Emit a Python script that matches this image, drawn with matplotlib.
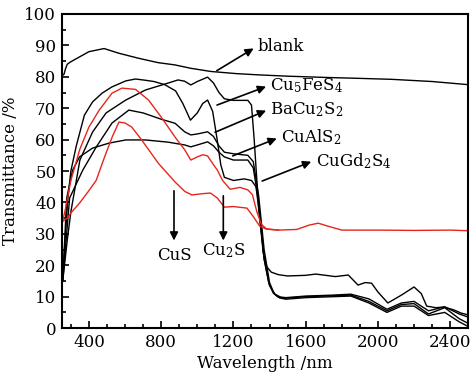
import matplotlib
matplotlib.use("Agg")
import matplotlib.pyplot as plt
from matplotlib.ticker import MultipleLocator

plt.rcParams["font.family"] = "DejaVu Serif"
plt.rcParams["mathtext.fontset"] = "dejavuserif"

# blank (substrate)
wl_blank = [255, 262, 270, 280, 300, 350, 400, 484, 566, 675, 784, 875, 965, 1075, 1220,
            1345, 1500, 1710, 1900, 2075, 2300, 2460, 2500]
t_blank = [80.5, 80.8, 82.5, 84.0, 84.8, 86.4, 88.0, 89.0, 87.5, 85.9, 84.5, 83.8, 82.7, 81.7, 81.0,
           80.6, 80.2, 79.8, 79.5, 79.2, 78.5, 77.7, 77.5]

# Cu5FeS4
wl_cufes = [255, 280, 300, 350, 420, 495, 604, 713, 838, 893, 930, 964, 1000, 1057, 1090, 1120,
            1150, 1200, 1280, 1300, 1315, 1340, 1365, 1385, 1410, 1450, 1500, 1600, 1656, 1765, 1836,
            1890, 1930, 1965, 2000, 2055, 2130, 2200, 2240, 2270, 2320, 2365, 2420, 2460, 2500]
t_cufes = [15, 28, 37, 53.5, 62.4, 68.5, 72.6, 75.8, 78.0, 79.0, 78.6, 77.4, 78.5, 79.9, 78.0, 75.0,
           73.0, 72.5, 72.5, 71.0, 60.0, 38.0, 24.0, 19.5, 17.8, 17.0, 16.6, 16.8, 17.2, 16.4, 16.9,
           13.7, 14.5, 14.3, 11.5, 8.0, 10.5, 13.1, 11.0, 7.0, 6.5, 6.7, 5.8, 4.8, 4.2]

# BaCu2S2
wl_bacu = [255, 270, 283, 300, 330, 375, 420, 473, 528, 604, 658, 713, 760, 820, 880, 920, 962,
           1000, 1030, 1057, 1085, 1110, 1130, 1150, 1200, 1260, 1300, 1325, 1345, 1370, 1395,
           1420, 1445, 1480, 1600, 1750, 1850, 1950, 2050, 2130, 2200, 2280, 2370, 2450, 2500]
t_bacu = [16, 30, 41, 50, 58, 67.8, 72.0, 74.8, 76.8, 78.7, 79.3, 78.9, 78.5, 77.5, 75.5, 71.5, 66.2,
          68.5, 71.5, 72.6, 69.0, 60.0, 52.0, 48.0, 47.0, 47.5, 47.0, 45.0, 36.0, 22.0, 14.5,
          11.2, 10.0, 9.5, 10.0, 10.3, 10.5, 8.5, 5.5, 7.5, 7.8, 4.5, 6.5, 3.0, 1.5]

# CuAlS2
wl_cual = [255, 293, 366, 440, 528, 621, 700, 800, 877, 930, 964, 1000, 1057, 1090, 1120, 1150,
           1200, 1280, 1310, 1340, 1370, 1400, 1425, 1455, 1490, 1600, 1750, 1850, 1950, 2050, 2130,
           2200, 2280, 2370, 2450, 2500]
t_cual = [15, 41.4, 50.3, 57.6, 65.3, 69.4, 68.5, 66.5, 65.2, 62.5, 61.5, 61.8, 62.5, 61.0, 58.0, 56.0,
          55.5, 55.0, 53.0, 42.0, 25.0, 14.5, 11.0, 9.6, 9.2, 9.7, 10.0, 10.2, 8.0, 5.0, 7.0,
          7.0, 4.0, 5.0, 2.0, 0.5]

# CuGd2S4
wl_cugd = [255, 277, 310, 348, 420, 512, 604, 713, 838, 931, 964, 1000, 1057, 1090, 1120, 1150,
           1200, 1280, 1310, 1340, 1370, 1400, 1430, 1460, 1490, 1600, 1750, 1850, 1950, 2050, 2130,
           2200, 2280, 2370, 2450, 2500]
t_cugd = [15, 41.4, 50.3, 54.5, 57.3, 58.9, 59.9, 59.9, 59.2, 58.3, 57.7, 58.3, 59.3, 58.0, 56.0, 54.5,
          53.5, 53.5, 51.0, 40.0, 22.0, 13.5, 10.8, 9.9, 9.7, 10.2, 10.5, 10.8, 9.3, 6.0, 8.0,
          8.5, 5.5, 6.8, 4.5, 3.5]

# CuS (red, upper)
wl_cus = [255, 270, 300, 350, 400, 457, 528, 583, 658, 730, 800, 877, 931, 964, 1000, 1030, 1057,
          1090, 1111, 1140, 1182, 1236, 1280, 1305, 1330, 1355, 1383, 1450, 1550, 1620, 1670, 1720,
          1800, 2000, 2200, 2400, 2500]
t_cus = [34, 38, 47, 57, 64, 69.4, 74.8, 76.4, 76.0, 72.6, 67.2, 60.8, 56.7, 53.5, 54.5, 55.2, 54.8,
         52.0, 50.3, 47.0, 44.2, 44.8, 44.0, 42.5, 37.0, 33.0, 31.6, 31.2, 31.4, 32.8, 33.4, 32.5,
         31.2, 31.2, 31.1, 31.2, 31.0]

# Cu2S (red, lower)
wl_cu2s = [255, 280, 305, 348, 403, 440, 490, 530, 566, 600, 637, 692, 784, 877, 931, 970, 1030,
           1073, 1111, 1150, 1200, 1275, 1310, 1345, 1383, 1450]
t_cu2s = [34, 35, 37, 39.8, 44, 47, 55, 61, 65.6, 65.3, 64, 59.9, 52.5, 46.5, 43.5, 42.4, 42.8,
          43, 41.4, 38.5, 38.7, 38.2, 35.5, 32.5, 31.5, 31.2]

labels = ["blank", "Cu$_5$FeS$_4$", "BaCu$_2$S$_2$", "CuAlS$_2$", "CuGd$_2$S$_4$"]
tails = [(1095, 81.5), (1095, 70.7), (1084, 62.0), (1182, 54.5), (1345, 46.5)]
heads = [(1325, 89.5), (1395, 77.2), (1395, 69.6), (1454, 60.7), (1645, 53.3)]

fig = plt.figure(figsize=(4.72, 3.78), dpi=100)
ax = fig.add_axes([0.131, 0.132, 0.861, 0.831])

for wl, t in [(wl_blank, t_blank), (wl_cufes, t_cufes), (wl_bacu, t_bacu),
              (wl_cual, t_cual), (wl_cugd, t_cugd)]:
    ax.plot(wl, t, color="black", lw=1.0)
ax.plot(wl_cus, t_cus, color="#e8251c", lw=1.0)
ax.plot(wl_cu2s, t_cu2s, color="#e8251c", lw=1.0)

for lab, tail, head in zip(labels, tails, heads):
    ax.annotate("", xy=head, xytext=tail,
                arrowprops=dict(arrowstyle="-|>", color="black", lw=1.2, mutation_scale=12))
    ax.text(head[0] + 10, head[1], lab, fontsize=12, va="center", ha="left")

# vertical arrows for CuS and Cu2S
ax.annotate("", xy=(871, 27), xytext=(871, 44.6),
            arrowprops=dict(arrowstyle="-|>", color="black", lw=1.2, mutation_scale=12))
ax.text(871, 23.2, "CuS", fontsize=12, ha="center", va="center")
ax.annotate("", xy=(1144, 27), xytext=(1144, 43),
            arrowprops=dict(arrowstyle="-|>", color="black", lw=1.2, mutation_scale=12))
ax.text(1144, 24.5, "Cu$_2$S", fontsize=12, ha="center", va="center")

ax.set_xlim(250, 2500)
ax.set_ylim(0, 100)
ax.set_xticks([400, 800, 1200, 1600, 2000, 2400])
ax.xaxis.set_minor_locator(MultipleLocator(100))
ax.yaxis.set_major_locator(MultipleLocator(10))
ax.yaxis.set_minor_locator(MultipleLocator(5))
ax.tick_params(which="both", direction="in", labelsize=12, width=1.2, top=False, right=False)
ax.tick_params(which="major", length=5, pad=4)
ax.tick_params(which="minor", length=3)
for s in ax.spines.values():
    s.set_linewidth(1.5)

ax.set_xlabel("Wavelength /nm", fontsize=12, labelpad=3)
ax.set_ylabel("Transmittance /%", fontsize=12, labelpad=4)

fig.savefig("out.png", dpi=100)
